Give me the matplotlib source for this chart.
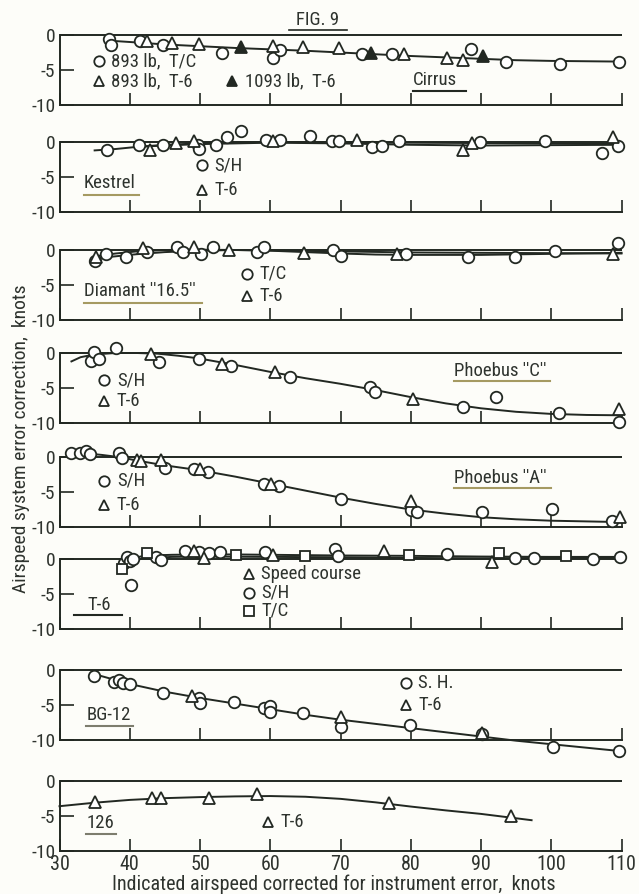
import matplotlib
matplotlib.use("Agg")
import matplotlib.pyplot as plt
from matplotlib import font_manager

# ---------------- data ----------------
x_ticks = [30, 40, 50, 60, 70, 80, 90, 100, 110]
y_ticks = [0, -5, -10]
y_tick_labels = ["0", "-5", "-10"]

# Cirrus
cirrus_tc_x = [37.0, 37.3, 41.5, 44.7, 53.1, 60.4, 61.4, 73.1, 77.3, 88.6, 93.5, 101.2, 109.7]
cirrus_tc_y = [-0.55, -1.4, -0.9, -1.4, -2.5, -3.3, -2.2, -2.75, -2.75, -2.0, -3.9, -4.1, -3.8]
cirrus_t6_x = [42.5, 46.0, 49.9, 60.4, 64.7, 69.8, 79.1, 85.2, 87.5]
cirrus_t6_y = [-0.8, -1.1, -1.3, -1.6, -1.7, -1.8, -2.7, -3.3, -3.6]
cirrus_heavy_x = [55.8, 74.4, 90.3]
cirrus_heavy_y = [-1.7, -2.6, -3.0]
cirrus_fit_x = [37, 40, 45, 50, 55, 60, 65, 70, 75, 80, 85, 90, 95, 100, 105, 110]
cirrus_fit_y = [-0.8, -1.0, -1.35, -1.6, -1.85, -2.05, -2.25, -2.5, -2.75, -3.0, -3.2, -3.4, -3.6, -3.7, -3.75, -3.8]

# Kestrel
kestrel_sh_x = [36.7, 41.3, 44.8, 49.7, 49.8, 52.3, 53.9, 55.9, 59.4, 61.4, 65.6, 68.8, 69.8, 74.5, 75.9, 78.3, 89.8, 99.1, 107.2, 109.5]
kestrel_sh_y = [-1.1, -0.4, -0.4, -0.4, -1.0, -0.4, 0.7, 1.6, 0.3, 0.3, 0.8, 0.1, 0.1, -0.7, -0.5, 0.2, 0.0, 0.1, -1.5, -0.5]
kestrel_t6_x = [42.9, 46.6, 49.2, 60.4, 72.3, 87.4, 88.7, 108.8]
kestrel_t6_y = [-1.1, -0.2, 0.2, 0.2, 0.3, -1.1, -0.1, 0.7]
kestrel_sh_fit_x = [35, 38, 41, 45, 50, 55, 60, 65, 70, 75, 80, 90, 100, 110]
kestrel_sh_fit_y = [-1.2, -1.0, -0.7, -0.4, -0.2, -0.05, 0, 0, 0, -0.1, -0.1, -0.15, -0.2, -0.2]
kestrel_t6_fit_x = [41, 45, 50, 55, 60, 70, 80, 90, 100, 110]
kestrel_t6_fit_y = [-0.7, -0.5, -0.3, -0.2, -0.1, -0.2, -0.4, -0.5, -0.45, -0.4]

# Diamant 16.5
diamant_tc_x = [35.1, 36.6, 39.4, 42.5, 46.7, 47.6, 50.1, 51.8, 58.1, 59.1, 68.9, 70.1, 79.3, 88.1, 94.9, 100.5, 109.5]
diamant_tc_y = [-1.5, -0.55, -1.0, -0.3, 0.4, -0.3, -0.55, 0.4, -0.3, 0.4, 0.0, -0.8, -0.55, -1.0, -1.0, -0.1, 1.05]
diamant_t6_x = [35.2, 41.9, 49.2, 54.1, 64.8, 78.0, 108.8]
diamant_t6_y = [-1.0, 0.3, 0.5, 0.0, -0.4, -0.5, -0.55]
diamant_tc_fit_x = [35, 38, 41, 45, 50, 55, 60, 65, 70, 75, 80, 90, 100, 110]
diamant_tc_fit_y = [-1.2, -0.9, -0.6, -0.3, -0.1, 0, -0.1, -0.3, -0.5, -0.65, -0.7, -0.7, -0.55, -0.4]
diamant_t6_fit_x = [35, 38, 41, 45, 50, 55, 60, 70, 80, 90, 100, 110]
diamant_t6_fit_y = [-0.9, -0.5, -0.2, 0, 0.05, 0, -0.05, -0.2, -0.35, -0.4, -0.45, -0.5]

# Phoebus "C"
pc_sh_x = [34.5, 34.9, 35.6, 38.0, 44.2, 49.9, 54.4, 62.8, 74.2, 74.9, 87.4, 92.1, 101.1, 109.7]
pc_sh_y = [-1.1, 0.2, -0.8, 0.65, -1.3, -0.85, -1.85, -3.4, -4.9, -5.6, -7.7, -6.3, -8.5, -9.9]
pc_t6_x = [43.0, 53.1, 60.7, 80.3, 109.7]
pc_t6_y = [-0.1, -1.5, -2.7, -6.5, -8.0]
pc_fit_x = [31.7, 33, 35, 38, 41, 44, 47, 50, 55, 60, 65, 70, 75, 80, 85, 90, 95, 100, 105, 110]
pc_fit_y = [-1.2, -0.6, -0.2, 0, 0, -0.1, -0.4, -0.8, -1.7, -2.7, -3.6, -4.4, -5.3, -6.3, -7.2, -7.9, -8.4, -8.7, -8.85, -8.9]

# Phoebus "A"
pa_sh_x = [31.6, 32.9, 33.8, 34.4, 38.4, 38.9, 45.0, 49.1, 51.1, 59.1, 61.2, 70.1, 80.0, 80.9, 90.2, 100.1, 108.6]
pa_sh_y = [0.55, 0.55, 0.8, 0.45, 0.55, -0.15, -1.5, -1.75, -2.1, -3.85, -4.1, -6.0, -7.6, -7.9, -7.9, -7.4, -9.1]
pa_t6_x = [41.0, 41.6, 44.4, 50.0, 60.1, 80.0, 109.8]
pa_t6_y = [-0.45, -0.6, -0.45, -1.75, -3.85, -6.3, -8.5]
pa_fit_x = [31.7, 34, 36, 38.4, 41, 45, 50, 55, 60, 65, 70, 75, 80, 85, 90, 95, 100, 105, 110]
pa_fit_y = [0.65, 0.5, 0.3, 0, -0.5, -1.2, -1.9, -2.8, -3.8, -4.8, -5.8, -6.7, -7.5, -8.1, -8.6, -8.9, -9.1, -9.2, -9.3]

# T-6
t6_sh_x = [39.2, 39.6, 40.1, 40.5, 40.2, 43.8, 44.5, 47.8, 49.9, 51.3, 52.8, 59.2, 69.2, 69.7, 85.1, 94.9, 97.6, 105.9, 109.8]
t6_sh_y = [-0.55, 0.3, -0.3, 0.0, -3.7, 0.3, -0.1, 1.1, 0.95, 0.85, 0.95, 0.95, 1.4, 0.4, 0.75, 0.15, 0.15, 0.0, 0.3]
t6_sc_x = [49.2, 50.5, 60.4, 76.2, 91.6]
t6_sc_y = [1.1, 0.15, 0.6, 1.1, -0.45]
t6_tc_x = [38.9, 42.4, 55.1, 64.9, 79.8, 92.5, 102.1]
t6_tc_y = [-1.5, 0.85, 0.6, 0.45, 0.6, 0.85, 0.45]
t6_fit1_x = [38.8, 39.3, 39.8, 40.5, 41.5, 43, 46, 50, 55, 60, 70, 80, 90, 100, 110]
t6_fit1_y = [-2.0, -1.2, -0.5, 0.0, 0.35, 0.5, 0.6, 0.65, 0.65, 0.6, 0.5, 0.45, 0.35, 0.3, 0.3]
t6_fit2_x = [40, 42, 46, 50, 60, 70, 80, 90, 100, 110]
t6_fit2_y = [-0.2, 0.1, 0.3, 0.35, 0.3, 0.25, 0.15, 0.1, 0.15, 0.2]

# BG-12
bg_sh_x = [34.9, 37.7, 38.4, 39.0, 40.1, 44.7, 49.9, 50.0, 54.8, 59.1, 59.9, 59.9, 64.7, 70.0, 79.9, 90.2, 100.2, 109.7]
bg_sh_y = [-0.85, -1.7, -1.5, -1.8, -2.0, -3.3, -4.0, -4.7, -4.6, -5.4, -5.2, -6.0, -6.15, -8.1, -7.9, -9.2, -11.0, -11.5]
bg_t6_x = [48.9, 70.0, 90.1]
bg_t6_y = [-3.75, -6.7, -9.0]
bg_fit_x = [35, 40, 45, 50, 55, 60, 65, 70, 75, 80, 85, 90, 95, 100, 105, 110]
bg_fit_y = [-0.6, -2.0, -3.1, -4.0, -4.8, -5.6, -6.4, -7.1, -7.7, -8.3, -8.9, -9.5, -10.1, -10.6, -11.1, -11.6]

# 126
f126_t6_x = [35.1, 43.2, 44.4, 51.3, 58.1, 76.9, 94.2]
f126_t6_y = [-3.0, -2.45, -2.45, -2.45, -1.9, -3.2, -5.05]
f126_fit_x = [30, 35, 40, 45, 50, 55, 60, 65, 70, 75, 80, 85, 90, 97.2]
f126_fit_y = [-3.6, -3.1, -2.7, -2.45, -2.3, -2.2, -2.15, -2.25, -2.55, -3.05, -3.65, -4.2, -4.7, -5.6]

# ---------------- style ----------------
avail = {f.name for f in font_manager.fontManager.ttflist}
if "Roboto Condensed" in avail:
    FAM = ["Roboto Condensed", "DejaVu Sans"]
elif "Liberation Sans Narrow" in avail:
    FAM = ["Liberation Sans Narrow", "DejaVu Sans"]
else:
    FAM = ["DejaVu Sans"]
plt.rcParams["font.family"] = FAM
INK = "#222822"
TXT = "#2e332e"
GOLD = "#a59a62"
GREY = "#7d7d6e"
BG = "#fdfdf9"
FS = 13.5     # key / panel names
FT = 14.5     # tick labels, axis titles
LW = 1.4

W, H = 639, 894
fig = plt.figure(figsize=(W / 100, H / 100), dpi=100, facecolor=BG)

X0, X1 = 59.5, 621.5
zero_px = [35, 142, 250, 353, 457, 559, 670, 781]
PANEL_PX = 70.0
YTOP = 2.6

axes = []
for i in range(8):
    z = zero_px[i]
    m = z + PANEL_PX
    unit = PANEL_PX / 10.0
    top = z - YTOP * unit
    rect = [X0 / W, 1 - m / H, (X1 - X0) / W, (m - top) / H]
    ax = fig.add_axes(rect)
    ax.set_facecolor("none")
    ax.set_xlim(30, 110)
    ax.set_ylim(-10, YTOP)
    for s in ["top", "right"]:
        ax.spines[s].set_visible(False)
    for s in ["bottom", "left"]:
        ax.spines[s].set_color(INK)
        ax.spines[s].set_linewidth(LW)
    ax.spines["left"].set_bounds(-10, 0)
    ax.axhline(0, color=INK, lw=LW, zorder=1)
    ax.set_xticks(x_ticks)
    ax.set_yticks(y_ticks)
    ax.set_yticklabels(y_tick_labels)
    ax.tick_params(axis="x", direction="in", length=9, width=1.2, color=INK,
                   labelsize=FT, labelcolor=TXT, pad=3)
    ax.tick_params(axis="y", direction="in", length=10, width=1.2, color=INK,
                   labelsize=14, labelcolor=TXT, pad=3)
    if i < 7:
        ax.set_xticklabels([])
    axes.append(ax)

def fit(ax, x, y):
    ax.plot(x, y, color=INK, lw=LW, zorder=2, clip_on=False)

def pts(ax, x, y, m, filled=False, ms=8):
    ax.plot(x, y, linestyle="none", marker=m, ms=ms, mec=INK, mew=1.3,
            mfc=INK if filled else "white", zorder=3, clip_on=False)

def key(ax, x, y, m, label, filled=False, ms=7.5):
    ax.plot([x], [y], linestyle="none", marker=m, ms=ms, mec=INK, mew=1.3,
            mfc=INK if filled else "white", zorder=3, clip_on=False)
    ax.text(x + 1.75, y, label, fontsize=FS, color=TXT, va="center", ha="left")

def title(ax, x, y, label, x2, uy, color=GOLD):
    ax.text(x, y, label, fontsize=FS, color=TXT, va="center", ha="left")
    ax.plot([x, x2], [uy, uy], color=color, lw=1.5, clip_on=False)

CIR, TRI, SQ = "o", "^", "s"
MS_C, MS_T, MS_S = 8.3, 8.0, 7.0

# Panel 1: Cirrus
ax = axes[0]
fit(ax, cirrus_fit_x, cirrus_fit_y)
pts(ax, cirrus_tc_x, cirrus_tc_y, CIR, ms=MS_C)
pts(ax, cirrus_t6_x, cirrus_t6_y, TRI, ms=MS_T)
pts(ax, cirrus_heavy_x, cirrus_heavy_y, TRI, filled=True, ms=MS_T)
key(ax, 35.6, -3.7, CIR, "893 lb,  T/C")
key(ax, 35.6, -6.6, TRI, "893 lb,  T-6")
key(ax, 54.6, -6.6, TRI, "1093 lb,  T-6", filled=True)
title(ax, 80.3, -6.4, "Cirrus", 87.8, -8.0, color=INK)

# Panel 2: Kestrel
ax = axes[1]
fit(ax, kestrel_sh_fit_x, kestrel_sh_fit_y)
fit(ax, kestrel_t6_fit_x, kestrel_t6_fit_y)
pts(ax, kestrel_sh_x, kestrel_sh_y, CIR, ms=MS_C)
pts(ax, kestrel_t6_x, kestrel_t6_y, TRI, ms=MS_T)
key(ax, 50.3, -3.3, CIR, "S/H")
key(ax, 50.3, -6.9, TRI, "T-6")
title(ax, 33.5, -5.9, "Kestrel", 41.3, -7.6)

# Panel 3: Diamant
ax = axes[2]
fit(ax, diamant_tc_fit_x, diamant_tc_fit_y)
fit(ax, diamant_t6_fit_x, diamant_t6_fit_y)
pts(ax, diamant_tc_x, diamant_tc_y, CIR, ms=MS_C)
pts(ax, diamant_t6_x, diamant_t6_y, TRI, ms=MS_T)
key(ax, 56.7, -3.4, CIR, "T/C")
key(ax, 56.7, -6.6, TRI, "T-6")
title(ax, 33.5, -5.8, "Diamant ''16.5''", 50.3, -7.5)

# Panel 4: Phoebus C
ax = axes[3]
fit(ax, pc_fit_x, pc_fit_y)
pts(ax, pc_sh_x, pc_sh_y, CIR, ms=MS_C)
pts(ax, pc_t6_x, pc_t6_y, TRI, ms=MS_T)
key(ax, 36.4, -3.9, CIR, "S/H")
key(ax, 36.4, -6.8, TRI, "T-6")
title(ax, 86.2, -2.6, "Phoebus ''C''", 99.8, -4.0)

# Panel 5: Phoebus A
ax = axes[4]
fit(ax, pa_fit_x, pa_fit_y)
pts(ax, pa_sh_x, pa_sh_y, CIR, ms=MS_C)
pts(ax, pa_t6_x, pa_t6_y, TRI, ms=MS_T)
key(ax, 36.4, -3.4, CIR, "S/H")
key(ax, 36.4, -6.9, TRI, "T-6")
title(ax, 86.2, -3.0, "Phoebus ''A''", 100.0, -4.4)

# Panel 6: T-6
ax = axes[5]
fit(ax, t6_fit1_x, t6_fit1_y)
fit(ax, t6_fit2_x, t6_fit2_y)
pts(ax, t6_sh_x, t6_sh_y, CIR, ms=MS_C)
pts(ax, t6_sc_x, t6_sc_y, TRI, ms=MS_T)
pts(ax, t6_tc_x, t6_tc_y, SQ, ms=MS_S)
key(ax, 57.0, -2.2, TRI, "Speed course")
key(ax, 57.0, -4.8, CIR, "S/H")
key(ax, 57.0, -7.4, SQ, "T/C", ms=6.5)
ax.text(34.0, -6.6, "T-6", fontsize=FS, color=TXT, va="center", ha="left")
ax.plot([32.0, 38.9], [-8.0, -8.0], color=INK, lw=1.5, clip_on=False)

# Panel 7: BG-12
ax = axes[6]
fit(ax, bg_fit_x, bg_fit_y)
pts(ax, bg_sh_x, bg_sh_y, CIR, ms=MS_C)
pts(ax, bg_t6_x, bg_t6_y, TRI, ms=MS_T)
key(ax, 79.3, -1.8, CIR, "S. H.")
key(ax, 79.3, -5.0, TRI, "T-6")
title(ax, 33.8, -6.5, "BG-12", 40.5, -8.0, color=GREY)

# Panel 8: 126
ax = axes[7]
fit(ax, f126_fit_x, f126_fit_y)
pts(ax, f126_t6_x, f126_t6_y, TRI, ms=MS_T)
key(ax, 59.7, -5.85, TRI, "T-6")
title(ax, 33.8, -6.0, "126", 38.0, -7.6, color=GREY)
ax.set_xticklabels([str(v) for v in x_ticks])

# Figure labels
fig.text(334 / W, 1 - 890 / H, "Indicated airspeed corrected for instrument error,  knots",
         fontsize=FT, color=TXT, ha="center", va="baseline")
fig.text(21 / W, 1 - 439 / H, "Airspeed system error correction,  knots",
         rotation=90, fontsize=14, color=TXT, ha="center", va="center")
fig.text(318 / W, 1 - 20 / H, "FIG. 9", fontsize=FS, color=TXT, ha="center", va="center")
fig.add_artist(plt.Line2D([289 / W, 347 / W], [1 - 30 / H, 1 - 30 / H], color=INK, lw=1.2))

fig.savefig("out.png", dpi=100, facecolor=BG)
